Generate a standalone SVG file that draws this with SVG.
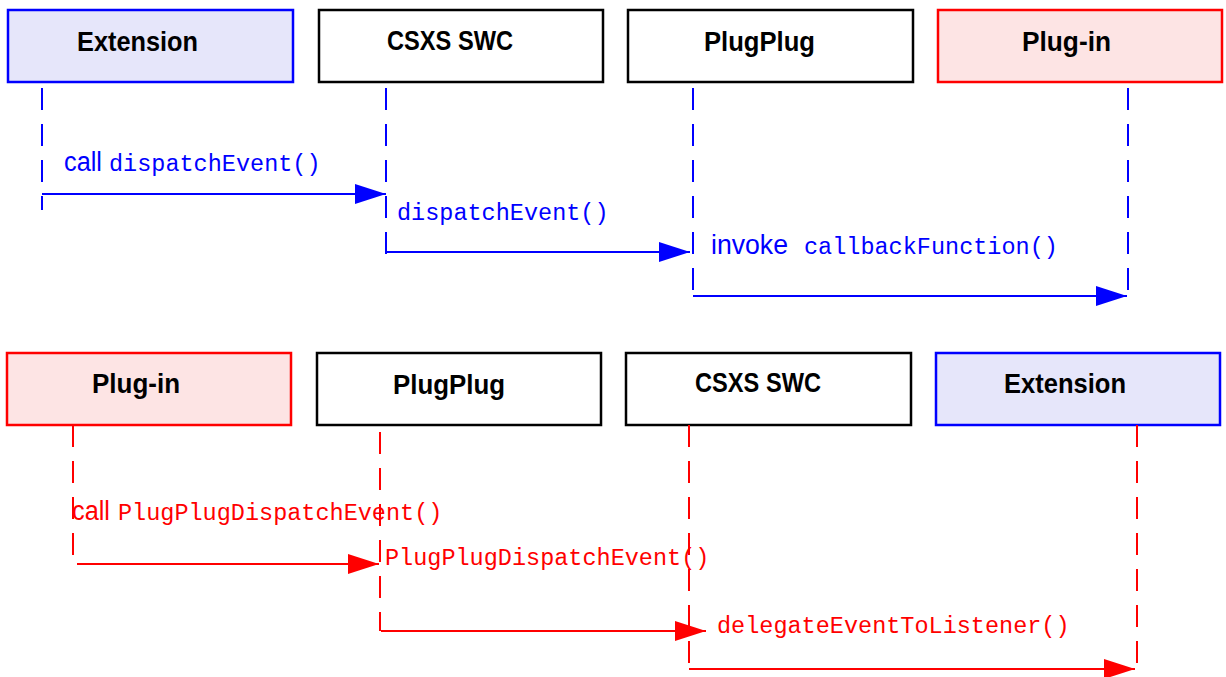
<svg xmlns="http://www.w3.org/2000/svg" width="1226" height="677" viewBox="0 0 1226 677">
<style>
.box{stroke-width:2.5}
.ext{fill:#e6e6fa;stroke:#0000ff}
.plg{fill:#fde4e4;stroke:#ff0000}
.plain{fill:#ffffff;stroke:#000000}
.title{font-family:"Liberation Sans",Arial,sans-serif;font-weight:bold;font-size:27px;fill:#000;text-anchor:middle}
.life{fill:none;stroke-width:2;stroke-dasharray:22 14}
.msg{fill:none;stroke-width:2}
.b{stroke:#0000ff}
.r{stroke:#ff0000}
.sans{font-family:"Liberation Sans",Arial,sans-serif;font-size:27px}
.mono{font-family:"Liberation Mono","Courier New",monospace;font-size:23.5px}
.tb{fill:#0000ff}
.tr{fill:#ff0000}
</style>
<defs>
<marker id="ab" markerUnits="userSpaceOnUse" markerWidth="32" markerHeight="20" refX="31" refY="10" orient="auto"><path d="M0,0 L31,10 L0,20 Z" fill="#0000ff"/></marker>
<marker id="ar" markerUnits="userSpaceOnUse" markerWidth="32" markerHeight="20" refX="31" refY="10" orient="auto"><path d="M0,0 L31,10 L0,20 Z" fill="#ff0000"/></marker>
</defs>

<g id="top-extension"><rect class="box ext" x="8" y="10" width="285" height="72"/><text class="title" x="137.5" y="51" textLength="121" lengthAdjust="spacingAndGlyphs">Extension</text></g>
<g id="top-csxs"><rect class="box plain" x="319" y="10" width="284" height="72"/><text class="title" x="450" y="50" textLength="126" lengthAdjust="spacingAndGlyphs">CSXS SWC</text></g>
<g id="top-plugplug"><rect class="box plain" x="628" y="10" width="285" height="72"/><text class="title" x="759.5" y="51" textLength="111" lengthAdjust="spacingAndGlyphs">PlugPlug</text></g>
<g id="top-plugin"><rect class="box plg" x="938" y="10" width="284" height="72"/><text class="title" x="1066.5" y="51" textLength="89" lengthAdjust="spacingAndGlyphs">Plug-in</text></g>

<g id="bot-plugin"><rect class="box plg" x="7" y="353" width="284" height="72"/><text class="title" x="136" y="393" textLength="88" lengthAdjust="spacingAndGlyphs">Plug-in</text></g>
<g id="bot-plugplug"><rect class="box plain" x="317" y="353" width="284" height="72"/><text class="title" x="449" y="394" textLength="112" lengthAdjust="spacingAndGlyphs">PlugPlug</text></g>
<g id="bot-csxs"><rect class="box plain" x="626" y="353" width="285" height="72"/><text class="title" x="758" y="392" textLength="126" lengthAdjust="spacingAndGlyphs">CSXS SWC</text></g>
<g id="bot-extension"><rect class="box ext" x="936" y="353" width="284" height="72"/><text class="title" x="1065" y="393" textLength="122" lengthAdjust="spacingAndGlyphs">Extension</text></g>

<g id="connectors">
<line class="life b" x1="42" y1="88" x2="42" y2="210"/>
<line class="life b" x1="386" y1="88" x2="386" y2="258"/>
<line class="life b" x1="693" y1="88" x2="693" y2="296"/>
<line class="life b" x1="1128" y1="88" x2="1128" y2="300"/>
<line class="msg b" x1="42" y1="194" x2="386" y2="194" marker-end="url(#ab)"/>
<line class="msg b" x1="385" y1="252" x2="690" y2="252" marker-end="url(#ab)"/>
<line class="msg b" x1="693" y1="296" x2="1127" y2="296" marker-end="url(#ab)"/>

<line class="life r" x1="73" y1="425" x2="73" y2="566"/>
<line class="life r" x1="380" y1="432" x2="380" y2="631"/>
<line class="life r" x1="689" y1="425" x2="689" y2="669"/>
<line class="life r" x1="1137" y1="425" x2="1137" y2="669"/>
<line class="msg r" x1="77" y1="564" x2="379" y2="564" marker-end="url(#ar)"/>
<line class="msg r" x1="381" y1="631" x2="706" y2="631" marker-end="url(#ar)"/>
<line class="msg r" x1="689" y1="669" x2="1135" y2="669" marker-end="url(#ar)"/>
</g>

<g id="labels">
<text class="sans tb" x="64" y="171" textLength="38" lengthAdjust="spacingAndGlyphs">call</text>
<text class="mono tb" x="109" y="171">dispatchEvent()</text>
<text class="mono tb" x="397" y="220">dispatchEvent()</text>
<text class="sans tb" x="711" y="254" textLength="77" lengthAdjust="spacingAndGlyphs">invoke</text>
<text class="mono tb" x="804" y="254">callbackFunction()</text>
<text class="sans tr" x="72" y="520" textLength="38" lengthAdjust="spacingAndGlyphs">call</text>
<text class="mono tr" x="118" y="520">PlugPlugDispatchEvent()</text>
<text class="mono tr" x="385" y="565">PlugPlugDispatchEvent()</text>
<text class="mono tr" x="717" y="633">delegateEventToListener()</text>
</g>
</svg>
